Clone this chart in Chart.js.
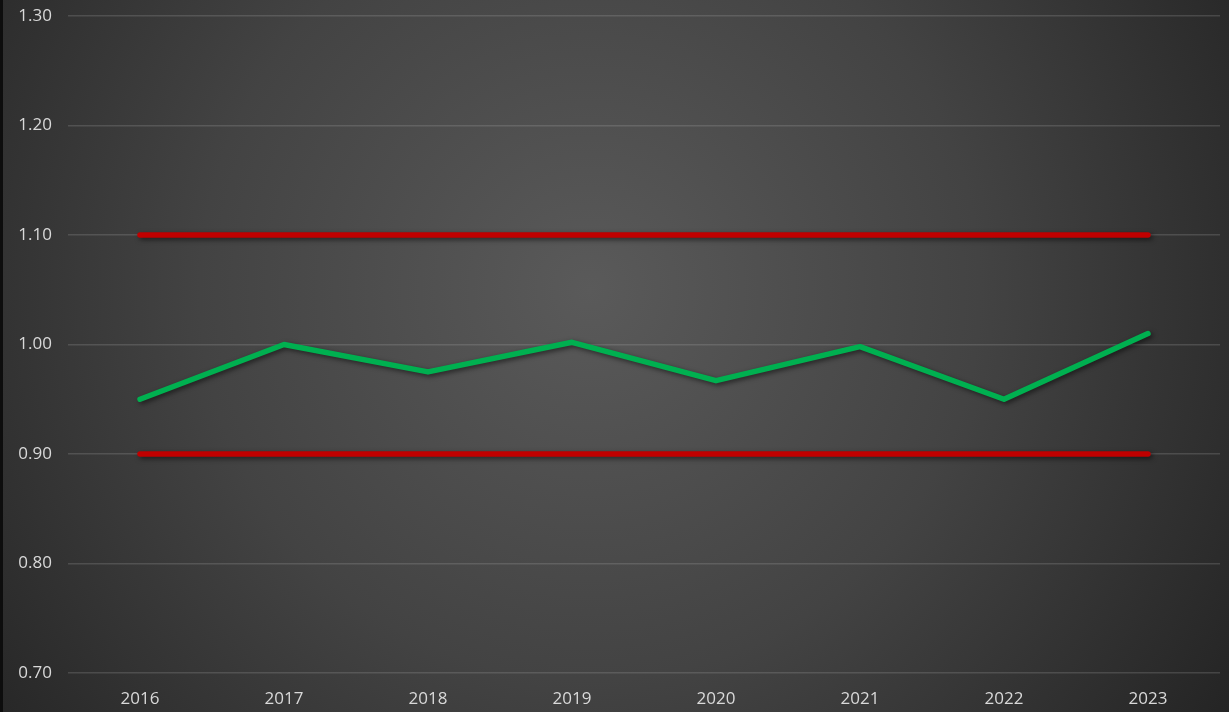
<!DOCTYPE html>
<html>
<head>
<meta charset="utf-8">
<script src="https://cdn.jsdelivr.net/npm/chart.js@4/dist/chart.umd.min.js"></script>
<style>
html,body{margin:0;padding:0;background:#262626;overflow:hidden;}
#wrap{width:1229px;height:712px;position:relative;}
</style>
</head>
<body>
<div id="wrap"><canvas id="c" width="1229" height="712"></canvas></div>
<script>
const years = ['2016','2017','2018','2019','2020','2021','2022','2023'];
const ratio = [0.95, 1.00, 0.975, 1.002, 0.967, 0.998, 0.95, 1.01];
const upperLimit = [1.10, 1.10, 1.10, 1.10, 1.10, 1.10, 1.10, 1.10];
const lowerLimit = [0.90, 0.90, 0.90, 0.90, 0.90, 0.90, 0.90, 0.90];
const yTicks = [0.70, 0.80, 0.90, 1.00, 1.10, 1.20, 1.30];

const bgPlugin = {
  id: 'bg',
  beforeDraw(chart) {
    const ctx = chart.ctx, w = chart.width, h = chart.height;
    ctx.save();
    const g = ctx.createRadialGradient(590, 290, 0, 590, 290, 780);
    g.addColorStop(0, '#5a5a5a');
    g.addColorStop(0.5, '#434343');
    g.addColorStop(1, '#232323');
    ctx.fillStyle = g;
    ctx.fillRect(0, 0, w, h);
    ctx.fillStyle = '#0d0d0d';
    ctx.fillRect(0, 0, 3, h);
    ctx.restore();
  }
};
const shadowPlugin = {
  id: 'shadow',
  beforeDatasetDraw(chart) {
    const ctx = chart.ctx;
    ctx.save();
    ctx.shadowColor = 'rgba(0,0,0,0.55)';
    ctx.shadowBlur = 5;
    ctx.shadowOffsetX = 2;
    ctx.shadowOffsetY = 2;
  },
  afterDatasetDraw(chart) { chart.ctx.restore(); }
};

const common = { pointRadius: 0, pointHoverRadius: 0, tension: 0, borderWidth: 5.5, borderCapStyle: 'round', borderJoinStyle: 'round', fill: false };

new Chart(document.getElementById('c'), {
  type: 'line',
  data: {
    labels: years,
    datasets: [
      Object.assign({ label: 'Ratio', data: ratio, borderColor: '#00B050' }, common),
      Object.assign({ label: 'Upper', data: upperLimit, borderColor: '#C00000' }, common),
      Object.assign({ label: 'Lower', data: lowerLimit, borderColor: '#C00000' }, common)
    ]
  },
  options: {
    responsive: false,
    maintainAspectRatio: false,
    animation: false,
    devicePixelRatio: 1,
    layout: { autoPadding: false, padding: { top: 16, right: 9, bottom: 0, left: 0 } },
    plugins: { legend: { display: false }, tooltip: { enabled: false }, title: { display: false } },
    scales: {
      x: {
        offset: true,
        grid: { display: false, drawTicks: false },
        border: { display: false },
        ticks: { color: '#d9d9d9', font: { family: 'Open Sans', size: 17 }, padding: 16, maxRotation: 0 },
        afterFit(s) { s.height = 39; s.paddingTop = 0; s.paddingBottom = 0; }
      },
      y: {
        min: 0.70, max: 1.30,
        afterBuildTicks(s) { s.ticks = yTicks.map(v => ({ value: v })); },
        grid: { color: 'rgba(190,190,190,0.2)', lineWidth: 1.5, drawTicks: false },
        border: { display: false },
        ticks: { color: '#d9d9d9', font: { family: 'Open Sans', size: 17 }, padding: 16, callback: v => Number(v).toFixed(2) },
        afterFit(s) { s.width = 68; s.paddingTop = 0; s.paddingBottom = 0; }
      }
    }
  },
  plugins: [bgPlugin, shadowPlugin]
});
</script>
</body>
</html>
